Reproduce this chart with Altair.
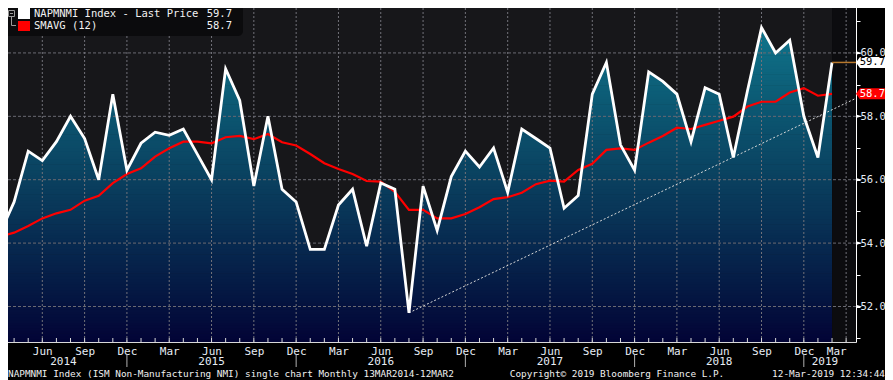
import altair as alt
import pandas as pd

# ---------------- data ----------------
month_names = ["Jan", "Feb", "Mar", "Apr", "May", "Jun", "Jul", "Aug", "Sep", "Oct", "Nov", "Dec"]
start_year = 2014
start_month = 3  # March 2014

# ISM Non-Manufacturing NMI, monthly, Mar 2014 .. Feb 2019
nmi = [54.3, 55.3, 56.9, 56.6, 57.2, 58.0, 57.3, 56.0, 58.7, 56.3,
       57.15, 57.5, 57.4, 57.6, 56.8, 56.0, 59.5, 58.5, 55.8, 58.0, 55.7, 55.3,
       53.8, 53.8, 55.2, 55.7, 53.9, 55.9, 55.7, 51.8, 55.8, 54.4, 56.1, 56.9,
       56.4, 57.0, 55.6, 57.6, 57.3, 57.0, 55.1, 55.5, 58.7, 59.7, 57.1, 56.3,
       59.4, 59.1, 58.7, 57.2, 58.9, 58.7, 56.7, 58.8, 60.8, 60.0, 60.4, 58.0,
       56.7, 59.7]

# 12-month simple moving average
sma = [54.21, 54.33, 54.54, 54.78, 54.94, 55.05, 55.34, 55.49, 55.89, 56.18,
       56.36, 56.73, 56.99, 57.20, 57.20, 57.15, 57.34, 57.38, 57.28, 57.44, 57.18, 57.08,
       56.81, 56.52, 56.34, 56.18, 55.96, 55.94, 55.62, 55.05, 55.05, 54.78, 54.78, 54.92,
       55.13, 55.39, 55.45, 55.59, 55.86, 55.97, 55.94, 56.31, 56.50, 56.94, 56.99, 56.94,
       57.17, 57.38, 57.64, 57.60, 57.73, 57.86, 57.99, 58.31, 58.46, 58.46, 58.75, 58.89,
       58.65, 58.71]

trend_end_value = 58.57  # dotted trend line value at the right edge

legend_labels = ["NAPMNMI Index - Last Price", "SMAVG (12)"]
y_tick_values = [51, 52, 53, 54, 55, 56, 57, 58, 59, 60, 61]
y_label_values = [52, 54, 56, 58, 60]
footer_left = "NAPMNMI Index (ISM Non-Manufacturing NMI) single chart  Monthly 13MAR2014-12MAR2"
footer_mid = "Copyright\u00a9 2019 Bloomberg Finance L.P."
footer_right = "12-Mar-2019 12:34:44"

# ---------------- layout / style ----------------
W, H = 856, 342
X_MAX = 60.7
Y_MIN, Y_MAX = 50.88, 61.67
MONO = "DejaVu Sans Mono"
TXT = "#e6ecf4"
PLOT_BG = "#17171a"
RIGHT = 885  # last visible pixel column

# vertical colour ramp of the filled area (value level -> colour)
ramp = [(50.88, (2, 3, 54)), (52.0, (4, 18, 63)), (54.0, (7, 42, 80)),
        (56.0, (10, 64, 95)), (58.7, (12, 92, 118)), (61.2, (17, 122, 144))]

n = len(nmi)
idx = list(range(n))
mon = lambda i: (start_month - 1 + i) % 12
yr = lambda i: start_year + (start_month - 1 + i) // 12

quarter_idx = [i for i in range(1, n + 1) if mon(i) in (2, 5, 8, 11)]
dec_idx = [i for i in range(n) if mon(i) == 11]
all_month_idx = list(range(0, n + 1))

years = sorted(set(yr(i) for i in idx))
year_pos = []
for y in years:
    ms = [i for i in idx if yr(i) == y]
    if len(ms) == 12:
        year_pos.append([i for i in ms if mon(i) == 5][0])
    else:
        year_pos.append(sum(ms) / len(ms))

xs = alt.Scale(domain=[0, X_MAX], nice=False, zero=False)
ys = alt.Scale(domain=[Y_MIN, Y_MAX], nice=False, zero=False)

base_df = pd.DataFrame({"i": idx, "v": nmi, "s": sma, "top": [Y_MAX] * n})
one = pd.DataFrame({"k": [0]})

label_list = "[" + ",".join("'%s'" % m for m in month_names) + "]"
x_axis = alt.Axis(values=quarter_idx,
                  labelExpr=label_list + "[(datum.value + %d) %% 12]" % (start_month - 1),
                  ticks=False, grid=False, title=None,
                  domainColor="#d8d8d8", domainWidth=1,
                  labelColor=TXT, labelFont=MONO, labelFontSize=11,
                  labelPadding=3, labelFlush=12, labelOverlap=False)
y_axis = alt.Axis(orient="right", values=y_tick_values,
                  labelExpr="datum.value % 2 == 0 ? format(datum.value, '.1f') : ''",
                  tickSize=4, tickColor="white", domainColor="white", domainWidth=1,
                  labelColor=TXT, labelFont=MONO, labelFontSize=10.5,
                  labelPadding=0, grid=False, title=None, labelOverlap=False)

X = lambda f: alt.X(f, scale=xs, axis=x_axis)
Y = lambda f: alt.Y(f, scale=ys, axis=y_axis)


def ramp_color(v):
    for (a, ca), (b, cb) in zip(ramp[:-1], ramp[1:]):
        if v <= b:
            t = (v - a) / (b - a)
            c = [round(ca[k] + (cb[k] - ca[k]) * t) for k in range(3)]
            return "#%02x%02x%02x" % tuple(c)
    return "#%02x%02x%02x" % ramp[-1][1]


NB = 120
b_lo = [Y_MIN + (61.2 - Y_MIN) * k / NB for k in range(NB)]
bands_df = pd.DataFrame({
    "lo": b_lo,
    "hi": [b + (61.2 - Y_MIN) / NB + 0.02 for b in b_lo],
    "c": [ramp_color(b + (61.2 - Y_MIN) / NB / 2) for b in b_lo],
    "x0": [0] * NB, "x1": [n - 1] * NB})

bands = alt.Chart(bands_df).mark_rect(strokeWidth=0).encode(
    x=X("x0:Q"), x2="x1", y=Y("lo:Q"), y2="hi", color=alt.Color("c:N", scale=None))

above = alt.Chart(base_df).mark_area(color=PLOT_BG, line=False).encode(
    x=X("i:Q"), y=Y("v:Q"), y2="top")

after = alt.Chart(pd.DataFrame({"x0": [n - 1], "x1": [X_MAX]})).mark_rect(
    color="#0c0c0f").encode(x=X("x0:Q"), x2="x1", y=alt.value(0), y2=alt.value(H))

hgrid = alt.Chart(pd.DataFrame({"g": y_label_values})).mark_rule(
    color="#6a6a72", strokeDash=[3, 2], strokeWidth=1).encode(y=Y("g:Q"))
vgrid = alt.Chart(pd.DataFrame({"q": quarter_idx})).mark_rule(
    color="#72727a", strokeDash=[2, 2], strokeWidth=1).encode(x=X("q:Q"))

low_i = nmi.index(min(nmi))
trend_df = pd.DataFrame({"i": [low_i, X_MAX], "v": [nmi[low_i], trend_end_value]})
trend = alt.Chart(trend_df).mark_line(color="#d8d8d8", strokeWidth=1, strokeDash=[2, 2]).encode(
    x=X("i:Q"), y=Y("v:Q"))

red = alt.Chart(base_df).mark_line(color="#ff0000", strokeWidth=2.2).encode(x=X("i:Q"), y=Y("s:Q"))
white = alt.Chart(base_df).mark_line(color="#ffffff", strokeWidth=2.8).encode(x=X("i:Q"), y=Y("v:Q"))

conn = alt.Chart(pd.DataFrame({"x0": [n - 1], "x1": [X_MAX], "v": [nmi[-1]]})).mark_rule(
    color="#b8782c", strokeWidth=1.5).encode(x=X("x0:Q"), x2="x1", y=Y("v:Q"))

mticks = alt.Chart(pd.DataFrame({"m": all_month_idx})).mark_rule(color="#d8d8d8").encode(
    x=X("m:Q"), y=alt.value(338), y2=alt.value(H))

ytri = alt.Chart(pd.DataFrame({"g": y_label_values})).mark_point(
    shape="M-1,-0.6 L1,0 L-1,0.6 Z", size=36, filled=True, color="white", opacity=1).encode(
    x=alt.value(859), y=Y("g:Q"))

TAG = "M-1,0 L-0.82,-0.25 L1,-0.25 L1,0.25 L-0.82,0.25 Z"
tags_df = pd.DataFrame({"v": [nmi[-1], sma[-1]],
                        "t": ["%.1f" % nmi[-1], "%.1f" % sma[-1]],
                        "fill": ["#ffffff", "#ff0000"],
                        "tc": ["#000000", "#ffffff"]})
tags = alt.Chart(tags_df).mark_point(shape=TAG, size=1936, filled=True, opacity=1, strokeWidth=0).encode(
    x=alt.value(878), y=Y("v:Q"), color=alt.Color("fill:N", scale=None))
tagtext = alt.Chart(tags_df).mark_text(font=MONO, fontSize=10.5, align="right", baseline="middle").encode(
    x=alt.value(RIGHT), y=Y("v:Q"), text="t:N", color=alt.Color("tc:N", scale=None))

year_txt = alt.Chart(pd.DataFrame({"x": year_pos, "t": [str(y) for y in years]})).mark_text(
    font=MONO, fontSize=11, color=TXT, align="center", baseline="middle").encode(
    x=X("x:Q"), y=alt.value(362), text="t:N")
seps = alt.Chart(pd.DataFrame({"d": dec_idx})).mark_rule(color="#b0b0b0").encode(
    x=X("d:Q"), y=alt.value(355), y2=alt.value(367))


def ftext(t, x, align):
    return alt.Chart(one).mark_text(text=t, font=MONO, fontSize=9.4, color="#f0f0f0",
                                    align=align, baseline="middle").encode(
        x=alt.value(x), y=alt.value(374))


footers = [ftext(footer_left, 8, "left"), ftext(footer_mid, 617, "center"),
           ftext(footer_right, RIGHT, "right")]


def box(x0, x1, y0, y1, **kw):
    return alt.Chart(one).mark_rect(**kw).encode(
        x=alt.value(x0), x2=alt.value(x1), y=alt.value(y0), y2=alt.value(y1))


def seg(x0, x1, y0, y1):
    return alt.Chart(one).mark_rule(color="#9a9a9a", strokeWidth=1).encode(
        x=alt.value(x0), x2=alt.value(x1), y=alt.value(y0), y2=alt.value(y1))


def ltext(t, x, y, align):
    return alt.Chart(one).mark_text(text=t, font=MONO, fontSize=10.5, color="#f2f2f2",
                                    align=align, baseline="middle").encode(
        x=alt.value(x), y=alt.value(y))


legend = [
    box(0, 243, 0, 36, color="#0b0b0d", cornerRadiusBottomRight=5),
    box(8.5, 14.5, 10.5, 16.5, filled=False, stroke="#9a9a9a", strokeWidth=1),
    seg(10, 13, 13.5, 13.5),
    seg(11.5, 11.5, 16.5, 25.5),
    seg(11.5, 16, 25.5, 25.5),
    box(18, 30, 8, 19, color="#ffffff"),
    box(18, 30, 21, 31, color="#ff0000"),
    ltext(legend_labels[0], 34, 13.8, "left"),
    ltext(legend_labels[1], 34, 26.2, "left"),
    ltext("%.1f" % nmi[-1], 232, 13.8, "right"),
    ltext("%.1f" % sma[-1], 232, 26.2, "right"),
]

chart = alt.layer(
    bands, above, after, hgrid, vgrid, trend, red, white, conn, mticks, ytri,
    tags, tagtext, year_txt, seps, *footers, *legend
).properties(
    width=W, height=H,
    padding={"left": -8, "top": -8, "right": RIGHT - W, "bottom": 38},
    autosize=alt.AutoSizeParams(type="none"),
    background="#000000",
).configure_view(fill=PLOT_BG, stroke=PLOT_BG, strokeWidth=0)

chart.save("out.html", embed_options={"renderer": "svg", "actions": False})
